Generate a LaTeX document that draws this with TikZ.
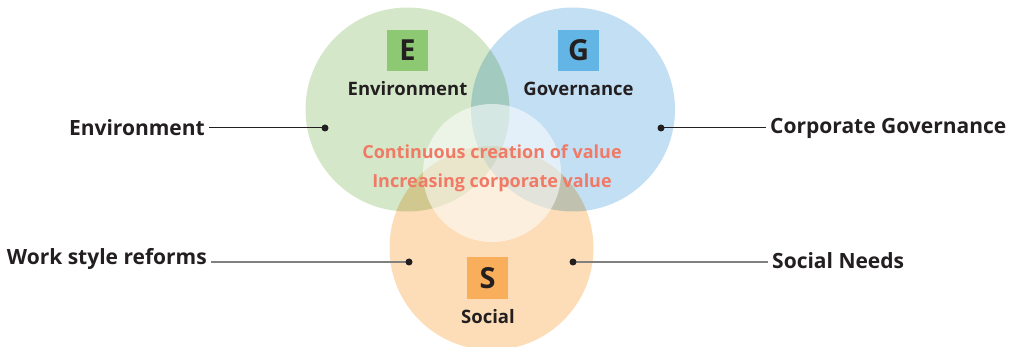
\documentclass[tikz,border=0pt]{standalone}
\usepackage{fontspec}
\setmainfont{Open Sans}

\definecolor{envfill}{HTML}{D4E7C8}
\definecolor{govfill}{HTML}{C3DFF4}
\definecolor{socfill}{HTML}{FCDDB7}
\definecolor{envkey}{HTML}{8DC973}
\definecolor{govkey}{HTML}{62B5E5}
\definecolor{sockey}{HTML}{F9AE5B}
\definecolor{ink}{HTML}{231F20}
\definecolor{valuered}{HTML}{F07A66}
\definecolor{leadgray}{HTML}{808080}

\begin{document}
\begin{tikzpicture}[x=1pt,y=-1pt,
  keybox/.style={minimum size=41pt,inner sep=0pt,
    font=\fontsize{29}{29}\selectfont\bfseries,text=ink},
  pillar/.style={font=\fontsize{18.5}{21}\selectfont\bfseries,text=ink},
  side/.style={font=\fontsize{21}{24}\selectfont\bfseries,text=ink,inner sep=4pt},
  value/.style={font=\fontsize{18}{21}\selectfont\bfseries,text=valuered},
  pin/.style={circle,fill=ink,inner sep=0pt,minimum size=7pt}]

\useasboundingbox
(0,0)
rectangle
(1014,347);

% the three circles, mixed where they overlap
\begin{scope}[blend group=multiply]
\fill[envfill]
(407.5,109.5)
circle (102);
\fill[govfill]
(573,109.5)
circle (102);
\fill[socfill]
(491.5,248)
circle (102);
\end{scope}

% pale core
\fill[white,opacity=0.55]
(492,173)
circle (69);

% E, G and S keys
\node[keybox,fill=envkey]
(keyE)
at (407.5,50.5)
{E};

\node[pillar]
(nameE)
at (407.5,89)
{Environment};

\node[keybox,fill=govkey]
(keyG)
at (578.5,50.5)
{G};

\node[pillar]
(nameG)
at (578.5,89)
{Governance};

\node[keybox,fill=sockey]
(keyS)
at (487.5,278)
{S};

\node[pillar]
(nameS)
at (488,317)
{Social};

% centre text
\node[value]
(valueA)
at (492,152)
{Continuous creation of value};

\node[value]
(valueB)
at (492,183)
{Increasing corporate value};

% pins on the circles
\coordinate
(pinE)
at (325,128);

\coordinate
(pinG)
at (661,128);

\coordinate
(pinW)
at (409,262);

\coordinate
(pinN)
at (573,262);

% side labels
\node[side,anchor=east]
(sideE)
at (209,128)
{Environment};

\node[side,anchor=west]
(sideG)
at (766,128)
{Corporate Governance};

\node[side,anchor=east]
(sideW)
at (211,259)
{Work style reforms};

\node[side,anchor=west]
(sideN)
at (768,261)
{Social Needs};

% leader lines
\draw[ink,line width=1pt]
(sideE.east |- pinE)
--
(pinE);

\draw[ink,line width=1pt]
(sideG.west |- pinG)
--
(pinG);

\draw[leadgray,line width=1.3pt]
(sideW.east |- pinW)
--
(pinW);

\draw[leadgray,line width=1.3pt]
(sideN.west |- pinN)
--
(pinN);

\foreach \p in {pinE,pinG,pinW,pinN}
  \node[pin] at (\p) {};

\end{tikzpicture}
\end{document}
